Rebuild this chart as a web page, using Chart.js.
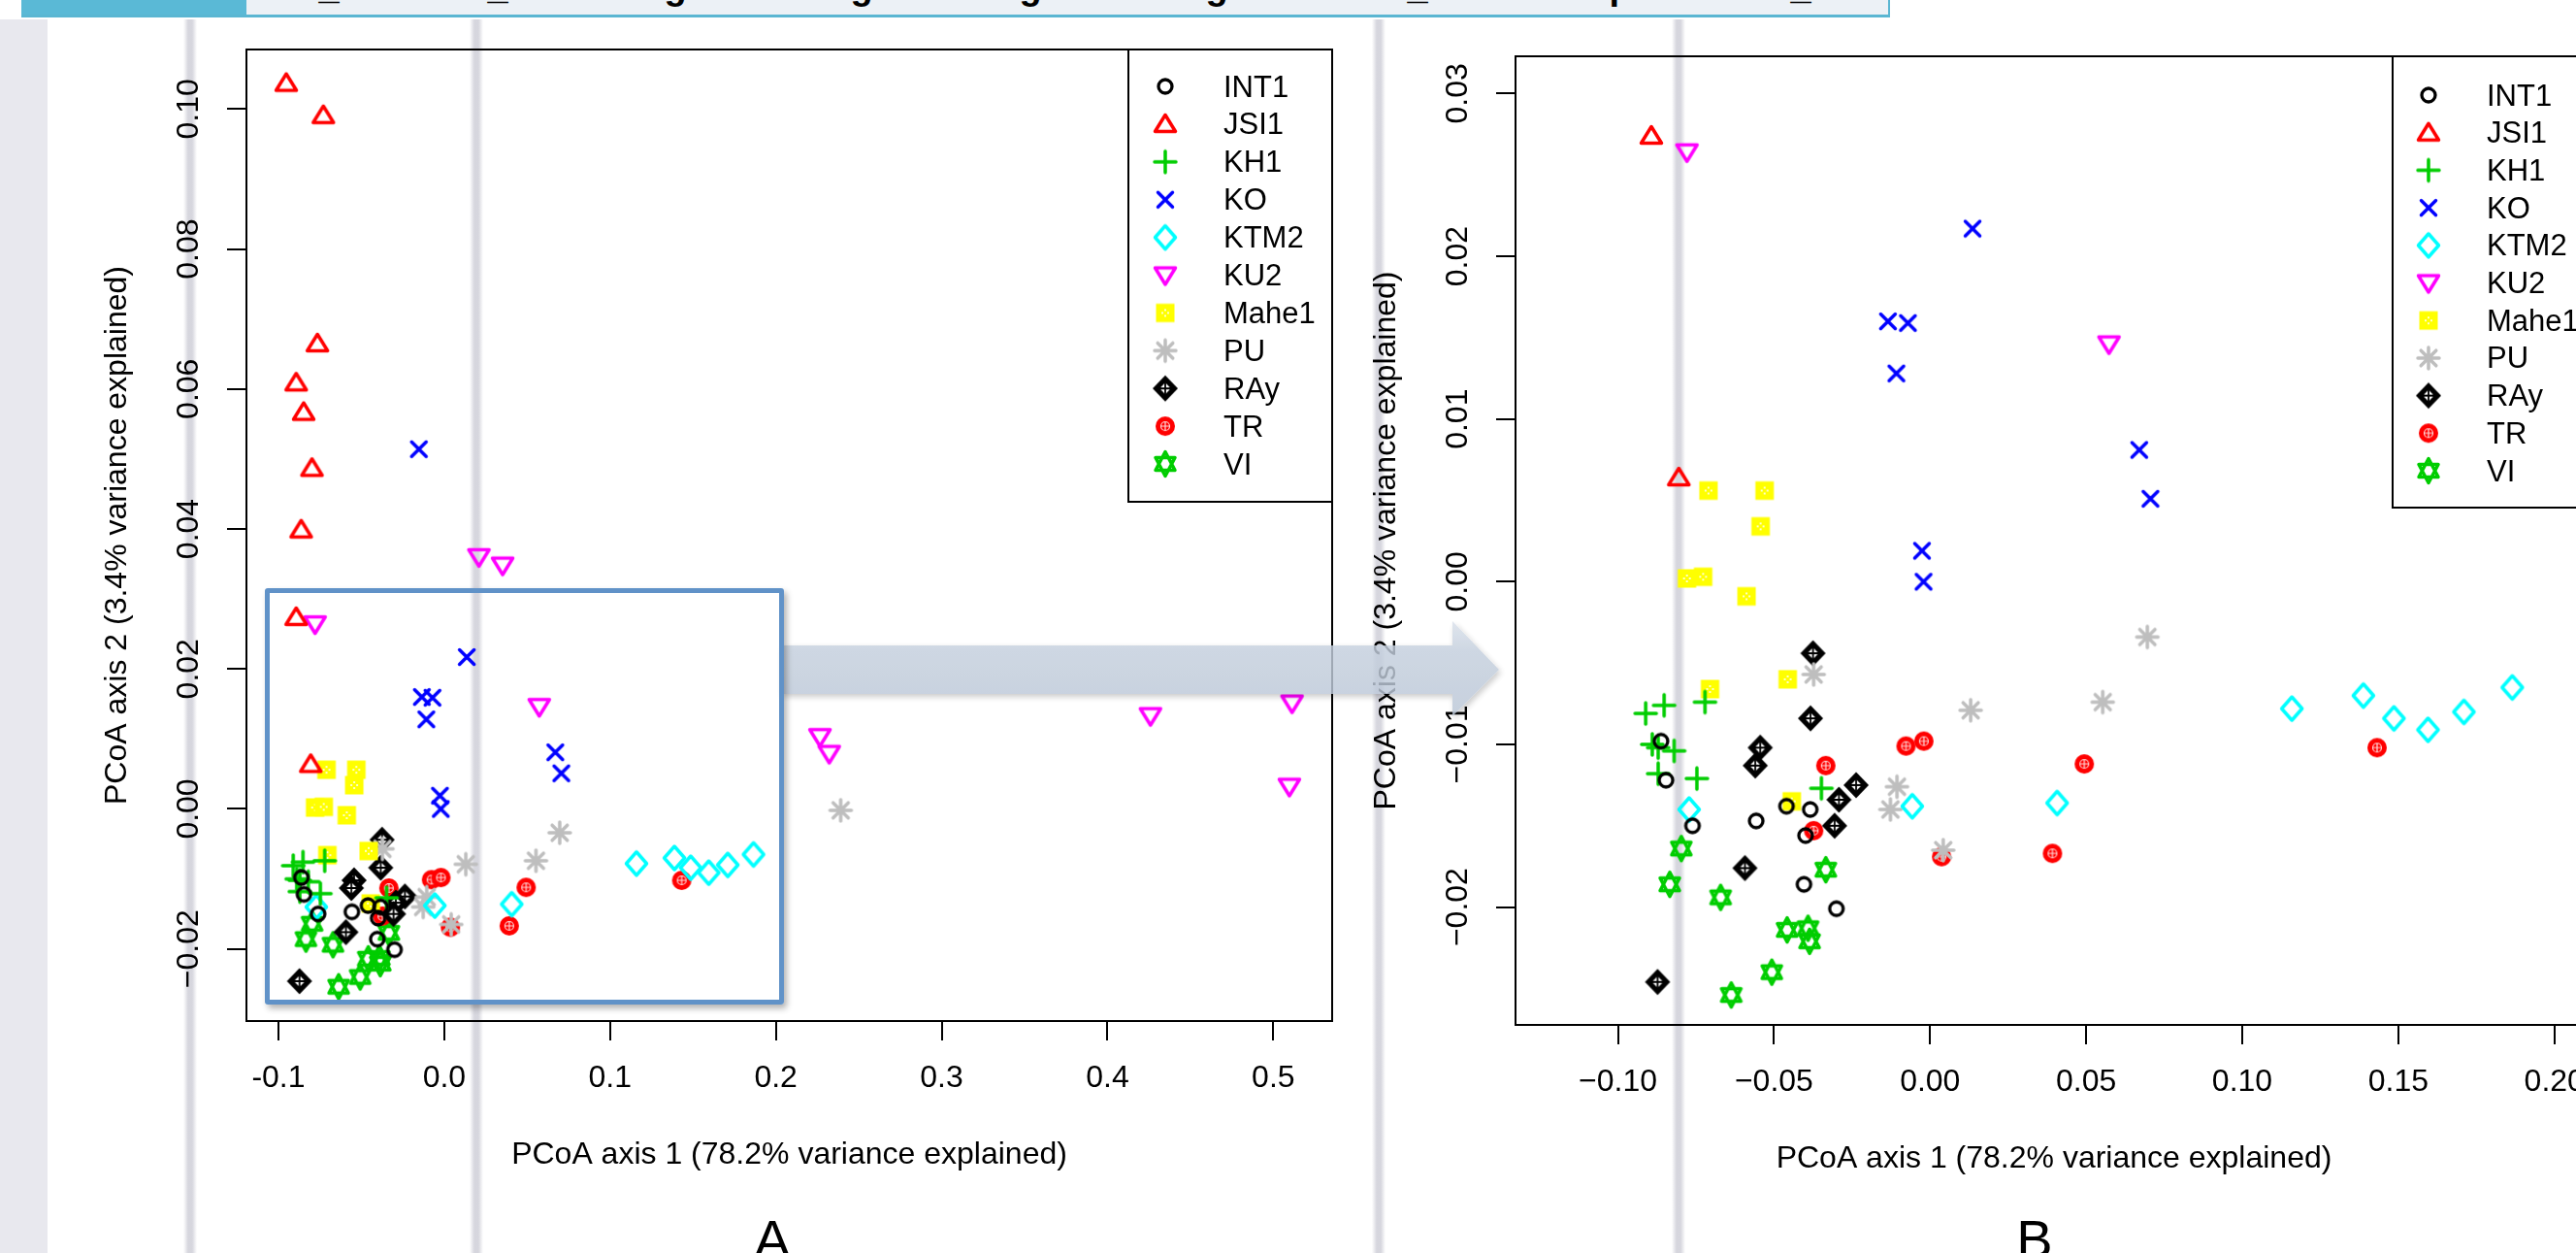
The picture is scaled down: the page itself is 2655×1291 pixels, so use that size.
<!DOCTYPE html>
<html>
<head>
<meta charset="utf-8">
<script src="https://cdn.jsdelivr.net/npm/chart.js@4.4.0/dist/chart.umd.min.js"></script>
<style>
  html, body { margin: 0; padding: 0; background: #fff; }
  #page { position: relative; width: 2655px; height: 1291px; overflow: hidden; background: #fff; font-family: "Liberation Sans", Arial, sans-serif; }
  #strip { position: absolute; left: 0; top: 20px; width: 49px; bottom: 0; background: #e8e8ee; }
  .vline { position: absolute; top: 20px; bottom: 0; width: 14px;
    background: linear-gradient(to right, rgba(212,212,220,0), rgba(212,212,220,0.95) 35%, rgba(212,212,220,0.95) 65%, rgba(212,212,220,0)); }
  #banner { position: absolute; left: 22px; top: 0; width: 1924px; height: 15px; background: #ecf1f6;
    border-bottom: 3px solid #5ab6d2; border-right: 2px solid #5ab6d2; overflow: hidden; }
  #tab { position: absolute; left: 0; top: 0; width: 232px; height: 15px; background: #5ab9d6; overflow: hidden; }
  .frag { position: absolute; top: -32px; font: bold 38px/36px "Liberation Sans", Arial, sans-serif; color: #000; transform: translateX(-50%); }
  .plot { position: absolute; top: 0; }
  #callout { position: absolute; left: 273px; top: 606px; width: 535px; height: 429px; box-sizing: border-box;
    border: 5px solid #6092c8; border-radius: 3px; box-shadow: 3px 4px 6px rgba(0,0,0,0.3); }
  .panel { position: absolute; top: 1249px; font: 56px/56px "Liberation Sans", Arial, sans-serif; color: #000; transform: translateX(-50%); }
</style>
</head>
<body>
<div id="page">
  <div id="strip"></div>
  <div class="vline" style="left:189px"></div>
  <div class="vline" style="left:484px"></div>
  <div class="vline" style="left:1414px"></div>
  <div class="vline" style="left:1723px"></div>

  <div id="banner">
    <div id="tab"><span class="frag" style="left:50px;color:#fff">V</span></div>
    <span class="frag" style="left:317px">_</span>
    <span class="frag" style="left:491px">_</span>
    <span class="frag" style="left:674px">g</span>
    <span class="frag" style="left:866px">g</span>
    <span class="frag" style="left:1040px">g</span>
    <span class="frag" style="left:1232px">g</span>
    <span class="frag" style="left:1439px">_</span>
    <span class="frag" style="left:1648px">p</span>
    <span class="frag" style="left:1834px">_</span>
  </div>

  <div class="plot" style="left:0;width:1400px;height:1291px"><canvas id="chartA" width="1400" height="1291"></canvas></div>
  <div class="plot" style="left:1400px;width:1300px;height:1291px"><canvas id="chartB" width="1300" height="1291"></canvas></div>

  <svg width="2655" height="1291" style="position:absolute;left:0;top:0">
    <defs>
      <linearGradient id="ag" x1="0" y1="0" x2="0" y2="1">
        <stop offset="0" stop-color="#d9e0ea"/>
        <stop offset="0.3" stop-color="#c4cfdd"/>
        <stop offset="1" stop-color="#bac6d6"/>
      </linearGradient>
      <filter id="sh"><feDropShadow dx="2" dy="3" stdDeviation="3" flood-opacity="0.25"/></filter>
    </defs>
    <polygon points="805,665 1497,665 1497,640 1545,690 1497,738 1497,715 805,715" fill="url(#ag)" opacity="0.82" filter="url(#sh)"/>
  </svg>
  <div id="callout"></div>

  <div class="panel" style="left:796px">A</div>
  <div class="panel" style="left:2097px">B</div>
</div>

<script>
// groups, in legend order
const groupNames = ["INT1", "JSI1", "KH1", "KO", "KTM2", "KU2", "Mahe1", "PU", "RAy", "TR", "VI"];
const groupColors = ["#000000", "#ff0000", "#00cd00", "#0000ff", "#00ffff", "#ff00ff", "#ffff00", "#bebebe", "#000000", "#ff0000", "#00cd00"];
const groupShapes = ["circle", "triUp", "plus", "cross", "diamond", "triDown", "boxX", "asterisk", "diamondPlus", "circlePlus", "david"];

// PCoA coordinates [axis1, axis2]
const INT1 = [[-0.0862, -0.0098], [-0.0846, -0.0122], [-0.0761, -0.0150], [-0.0557, -0.0147], [-0.0460, -0.0138],
  [-0.0384, -0.0140], [-0.0399, -0.0156], [-0.0404, -0.0186], [-0.0300, -0.0201]];
const JSI1 = [[-0.0953, 0.1037], [-0.0729, 0.0991], [-0.0765, 0.0665], [-0.0893, 0.0609], [-0.0848, 0.0567],
  [-0.0798, 0.0487], [-0.0863, 0.0399], [-0.0893, 0.0274], [-0.0805, 0.0064]];
const KH1 = [[-0.0911, -0.0081], [-0.0852, -0.0076], [-0.0721, -0.0074], [-0.0890, -0.0100], [-0.0871, -0.0102],
  [-0.0820, -0.0104], [-0.0871, -0.0118], [-0.0747, -0.0121], [-0.0348, -0.0127]];
const KO = [[-0.0153, 0.0514], [0.0136, 0.0217], [-0.0135, 0.0160], [-0.0071, 0.0159], [-0.0108, 0.0128],
  [0.0670, 0.0081], [0.0706, 0.0051], [-0.0026, 0.0019], [-0.0021, 0.0000]];
const KTM2 = [[-0.0772, -0.0140], [-0.0057, -0.0138], [0.0407, -0.0136], [0.1159, -0.0078], [0.1388, -0.0070],
  [0.1486, -0.0084], [0.1595, -0.0091], [0.1710, -0.0080], [0.1865, -0.0065]];
const KU2 = [[-0.0779, 0.0264], [0.0209, 0.0360], [0.0352, 0.0348], [0.0573, 0.0146], [0.2266, 0.0103],
  [0.2322, 0.0079], [0.4259, 0.0133], [0.5113, 0.0151], [0.5097, 0.0032]];
const Mahe1 = [[-0.0710, 0.0056], [-0.0530, 0.0056], [-0.0543, 0.0034], [-0.0779, 0.0002], [-0.0727, 0.0003],
  [-0.0588, -0.0009], [-0.0705, -0.0066], [-0.0456, -0.0060], [-0.0443, -0.0135]];
const PU = [[-0.0373, -0.0057], [0.0130, -0.0079], [-0.0106, -0.0126], [-0.0127, -0.0140], [0.0042, -0.0165],
  [0.0696, -0.0034], [0.0553, -0.0074], [0.2391, -0.0002]];
const RAy = [[-0.0375, -0.0044], [-0.0383, -0.0084], [-0.0544, -0.0102], [-0.0560, -0.0113], [-0.0237, -0.0125],
  [-0.0292, -0.0134], [-0.0306, -0.0150], [-0.0593, -0.0176], [-0.0873, -0.0246]];
const TR = [[-0.0334, -0.0113], [-0.0077, -0.0101], [-0.0020, -0.0098], [-0.0373, -0.0153], [0.0037, -0.0169],
  [0.0494, -0.0112], [0.0392, -0.0167], [0.1432, -0.0102]];
const VI = [[-0.0797, -0.0164], [-0.0834, -0.0186], [-0.0671, -0.0194], [-0.0334, -0.0177], [-0.0458, -0.0214],
  [-0.0391, -0.0213], [-0.0386, -0.0221], [-0.0507, -0.0240], [-0.0637, -0.0254]];
const groupPoints = [INT1, JSI1, KH1, KO, KTM2, KU2, Mahe1, PU, RAy, TR, VI];

// ticks
const xTicksA = [-0.1, 0, 0.1, 0.2, 0.3, 0.4, 0.5];
const xLabelsA = ["-0.1", "0.0", "0.1", "0.2", "0.3", "0.4", "0.5"];
const yTicksA = [-0.02, 0, 0.02, 0.04, 0.06, 0.08, 0.10];
const yLabelsA = ["\u22120.02", "0.00", "0.02", "0.04", "0.06", "0.08", "0.10"];
const xTicksB = [-0.10, -0.05, 0, 0.05, 0.10, 0.15, 0.20];
const xLabelsB = ["\u22120.10", "\u22120.05", "0.00", "0.05", "0.10", "0.15", "0.20"];
const yTicksB = [-0.02, -0.01, 0, 0.01, 0.02, 0.03];
const yLabelsB = ["\u22120.02", "\u22120.01", "0.00", "0.01", "0.02", "0.03"];

const xTitle = "PCoA axis 1 (78.2% variance explained)";
const yTitle = "PCoA axis 2 (3.4% variance explained)";
const FONT = '"Liberation Sans", Arial, sans-serif';

Chart.defaults.font.family = FONT;

// R-like plotting symbols drawn on small canvases
function makeSymbol(kind, color) {
  const c = document.createElement("canvas");
  c.width = 36; c.height = 36;
  const g = c.getContext("2d");
  g.translate(18, 18);
  g.strokeStyle = color; g.fillStyle = color;
  g.lineWidth = 3.5; g.lineJoin = "round"; g.lineCap = "round";
  g.beginPath();
  if (kind === "circle") {
    g.lineWidth = 3.3; g.arc(0, 0, 7, 0, Math.PI * 2); g.stroke();
  } else if (kind === "triUp") {
    g.moveTo(0, -9.5); g.lineTo(10.5, 7.5); g.lineTo(-10.5, 7.5); g.closePath(); g.stroke();
  } else if (kind === "triDown") {
    g.moveTo(0, 9.5); g.lineTo(10.5, -7.5); g.lineTo(-10.5, -7.5); g.closePath(); g.stroke();
  } else if (kind === "plus") {
    g.moveTo(-11, 0); g.lineTo(11, 0); g.moveTo(0, -11); g.lineTo(0, 11); g.stroke();
  } else if (kind === "cross") {
    g.moveTo(-7.5, -7.5); g.lineTo(7.5, 7.5); g.moveTo(7.5, -7.5); g.lineTo(-7.5, 7.5); g.stroke();
  } else if (kind === "diamond") {
    g.moveTo(0, -12); g.lineTo(10.5, 0); g.lineTo(0, 12); g.lineTo(-10.5, 0); g.closePath(); g.stroke();
  } else if (kind === "boxX") {
    g.fillRect(-9.5, -9.5, 19, 19);
    g.fillStyle = "rgba(255,255,255,0.8)";
    [[-3, 0], [3, 0], [0, -3], [0, 3]].forEach(p => g.fillRect(p[0] - 1, p[1] - 1, 2, 2));
  } else if (kind === "asterisk") {
    g.moveTo(-11, 0); g.lineTo(11, 0); g.moveTo(0, -11); g.lineTo(0, 11);
    g.moveTo(-7.8, -7.8); g.lineTo(7.8, 7.8); g.moveTo(7.8, -7.8); g.lineTo(-7.8, 7.8); g.stroke();
  } else if (kind === "diamondPlus") {
    g.moveTo(0, -13.5); g.lineTo(13, 0); g.lineTo(0, 13.5); g.lineTo(-13, 0); g.closePath(); g.fill();
    g.beginPath(); g.fillStyle = "#fff";
    g.moveTo(0, -6); g.lineTo(5.8, 0); g.lineTo(0, 6); g.lineTo(-5.8, 0); g.closePath(); g.fill();
    g.beginPath(); g.strokeStyle = color; g.lineWidth = 1.8;
    g.moveTo(0, -7); g.lineTo(0, 7); g.moveTo(-7, 0); g.lineTo(7, 0); g.stroke();
  } else if (kind === "circlePlus") {
    g.arc(0, 0, 10, 0, Math.PI * 2); g.fill();
    g.beginPath(); g.strokeStyle = "rgba(255,255,255,0.85)"; g.lineWidth = 1.2;
    g.arc(0, 0, 4.5, 0, Math.PI * 2);
    g.moveTo(-4.5, 0); g.lineTo(4.5, 0); g.moveTo(0, -4.5); g.lineTo(0, 4.5); g.stroke();
  } else if (kind === "david") {
    g.moveTo(0, -12.5); g.lineTo(10, 6.5); g.lineTo(-10, 6.5); g.closePath();
    g.moveTo(0, 12.5); g.lineTo(10, -6.5); g.lineTo(-10, -6.5); g.closePath(); g.stroke();
  }
  return c;
}
const symbols = groupShapes.map((s, i) => makeSymbol(s, groupColors[i]));

// box around the plot region, like R's box()
const rBox = {
  id: "rBox",
  afterDatasetsDraw(chart) {
    const a = chart.chartArea, ctx = chart.ctx;
    ctx.save();
    ctx.lineWidth = 2; ctx.strokeStyle = "#000";
    ctx.strokeRect(a.left, a.top, a.right - a.left, a.bottom - a.top);
    ctx.restore();
  }
};

// legend box in the top-right corner of the plot region
const rLegend = {
  id: "rLegend",
  afterDraw(chart, args, opts) {
    const a = chart.chartArea, ctx = chart.ctx;
    const left = a.right - opts.width, top = a.top;
    ctx.save();
    ctx.fillStyle = "#fff";
    ctx.fillRect(left, top, opts.width, opts.height);
    ctx.lineWidth = 2; ctx.strokeStyle = "#000";
    ctx.strokeRect(left, top, opts.width, opts.height);
    ctx.font = "31px " + FONT;
    ctx.fillStyle = "#000";
    ctx.textBaseline = "middle";
    groupNames.forEach((name, i) => {
      const y = top + opts.first + i * opts.step;
      ctx.drawImage(symbols[i], left + opts.symX - 18, y - 18);
      ctx.fillText(name, left + opts.textX, y + 2);
    });
    ctx.restore();
  }
};

function makeDatasets() {
  return groupNames.map((name, i) => ({
    label: name,
    data: groupPoints[i].map(p => ({ x: p[0], y: p[1] })),
    pointStyle: symbols[i],
    pointRadius: 10,
    clip: 0
  }));
}

function makeScales(xr, yr, xTicks, xLabels, yTicks, yLabels) {
  const grid = { display: true, drawOnChartArea: false, drawTicks: true, tickLength: 20, tickWidth: 2, tickColor: "#000", color: "#000", lineWidth: 2 };
  return {
    x: {
      type: "linear", position: "bottom", min: xr[0], max: xr[1],
      afterBuildTicks: s => { s.ticks = xTicks.map(v => ({ value: v })); },
      afterFit: s => { s.height = 160; },
      grid: grid,
      border: { display: false },
      ticks: { font: { size: 32 }, color: "#000", padding: 20, minRotation: 0, maxRotation: 0, autoSkip: false,
        callback: (v, i) => xLabels[i] },
      title: { display: true, text: xTitle, font: { size: 32 }, color: "#000", padding: { top: 0, bottom: 3 } }
    },
    y: {
      type: "linear", position: "left", min: yr[0], max: yr[1],
      afterBuildTicks: s => { s.ticks = yTicks.map(v => ({ value: v })); },
      afterFit: s => { s.width = 152; },
      grid: grid,
      border: { display: false },
      ticks: { font: { size: 32 }, color: "#000", padding: -2, minRotation: 90, maxRotation: 90, crossAlign: "center", autoSkip: false,
        callback: (v, i) => yLabels[i] },
      title: { display: true, text: yTitle, font: { size: 32 }, color: "#000", padding: { top: 0, bottom: 0 } }
    }
  };
}

function makeChart(id, padding, xr, yr, xTicks, xLabels, yTicks, yLabels, legendOpts) {
  return new Chart(document.getElementById(id), {
    type: "scatter",
    data: { datasets: makeDatasets() },
    options: {
      responsive: false,
      animation: false,
      events: [],
      layout: { padding: padding, autoPadding: false },
      scales: makeScales(xr, yr, xTicks, xLabels, yTicks, yLabels),
      plugins: { legend: { display: false }, tooltip: { enabled: false }, rLegend: legendOpts }
    },
    plugins: [rBox, rLegend]
  });
}

// A: full view
makeChart("chartA", { left: 102, top: 51, right: 27, bottom: 79 },
  [-0.1193, 0.5355], [-0.0303, 0.1085], xTicksA, xLabelsA, yTicksA, yLabelsA,
  { width: 210, height: 466, first: 38, step: 38.9, symX: 38, textX: 98 });

// B: zoom on the boxed region
makeChart("chartB", { left: 10, top: 58, right: 28, bottom: 75 },
  [-0.1328, 0.2122], [-0.02724, 0.03229], xTicksB, xLabelsB, yTicksB, yLabelsB,
  { width: 206, height: 465, first: 40, step: 38.7, symX: 37, textX: 97 });
</script>
</body>
</html>
